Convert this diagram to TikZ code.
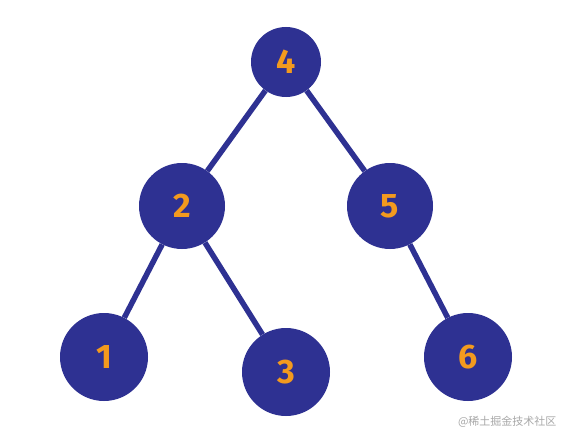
\documentclass[tikz,border=0pt]{standalone}
\usepackage{fontspec}
\setmainfont{Fira Sans}
\newfontfamily\cjk{Noto Sans CJK SC}
\definecolor{navy}{HTML}{2E3192}
\definecolor{numor}{HTML}{F39A1E}
\definecolor{wmgray}{HTML}{A8A8A8}
\begin{document}
\begin{tikzpicture}[x=1pt,y=-1pt,
  treenode/.style={circle,fill=navy,draw=none,inner sep=0pt,text=numor,font=\fontsize{34}{34}\selectfont\bfseries},
  edge/.style={draw=navy,line width=5.5pt}]
\useasboundingbox[fill=white] (0,0) rectangle (565,436);
\node[treenode,minimum size=70pt] (n4) at (286,62) {4};
\node[treenode,minimum size=86pt] (n2) at (182,206) {2};
\node[treenode,minimum size=86pt] (n5) at (390,206) {5};
\node[treenode,minimum size=88pt] (n1) at (104,357) {1};
\node[treenode,minimum size=88pt] (n3) at (286,372) {3};
\node[treenode,minimum size=88pt] (n6) at (468,357) {6};
\draw[edge] (n4) -- (n2);
\draw[edge] (n4) -- (n5);
\draw[edge] (n2) -- (n1);
\draw[edge] (n2) -- (n3);
\draw[edge] (n5) -- (n6);
\node[text=wmgray,font=\cjk\fontsize{11}{11}\selectfont,anchor=east] (wm) at (560,422) {@稀土掘金技术社区};
\end{tikzpicture}
\end{document}
